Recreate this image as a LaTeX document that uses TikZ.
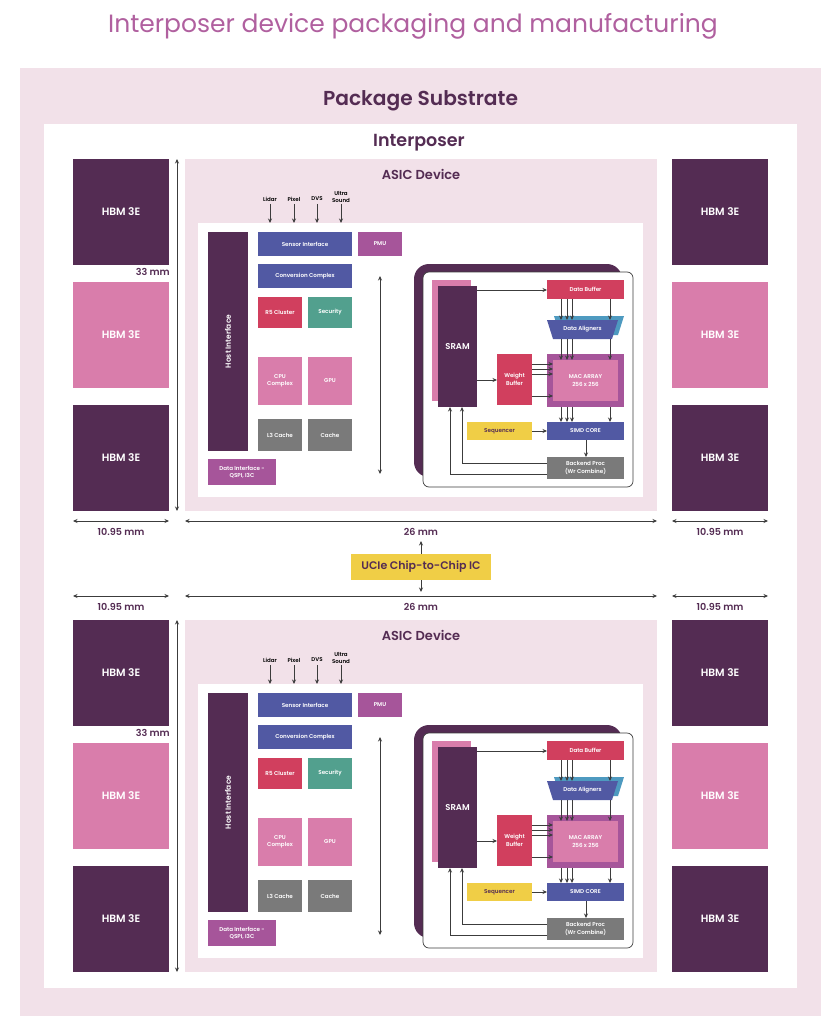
\documentclass[tikz,border=0pt]{standalone}
\usepackage{fontspec}
\setmainfont{Poppins}[BoldFont={Poppins SemiBold}]
\usetikzlibrary{arrows.meta}
\definecolor{bgp}{HTML}{F2E1E9}
\definecolor{dk}{HTML}{542C53}
\definecolor{pk}{HTML}{D97DAB}
\definecolor{mg}{HTML}{A6559A}
\definecolor{bl}{HTML}{5159A3}
\definecolor{rd}{HTML}{D13F5E}
\definecolor{tl}{HTML}{52A08E}
\definecolor{gy}{HTML}{7A7A7A}
\definecolor{yl}{HTML}{F0CE46}
\definecolor{sk}{HTML}{4E9AC0}
\definecolor{ttl}{HTML}{B0609F}
\definecolor{lnc}{HTML}{3C3C3C}
\tikzset{
  bx/.style={inner sep=0pt,outer sep=0pt,align=center,text=white,draw=none},
  tiny/.style={font=\fontsize{5.6}{7.4}\selectfont\bfseries},
  hbm/.style={font=\fontsize{10.6}{13}\selectfont\bfseries},
  dim/.style={text=dk,inner sep=0pt,font=\fontsize{9.6}{12}\selectfont\bfseries},
  sens/.style={text=black,inner sep=0pt,align=center,font=\fontsize{5.5}{6.8}\selectfont\bfseries},
  ar/.style={draw=lnc,line width=0.8pt,-{Stealth[length=4.5pt,width=4pt]}},
  dar/.style={draw=lnc,line width=0.8pt,{Stealth[length=4.5pt,width=4pt]}-{Stealth[length=4.5pt,width=4pt]}}
}
% name, x1,y1,x2,y2, colour, style, text
\newcommand\bxn[8]{%
  \pgfmathsetmacro\bw{#4-#2}\pgfmathsetmacro\bh{#5-#3}%
  \pgfmathsetmacro\bx{(#2+#4)/2}\pgfmathsetmacro\by{(#3+#5)/2}%
  \node[bx,#7,fill=#6,minimum width=\bw pt,minimum height=\bh pt] (#1) at (\bx,\by) {#8};}
\newcommand\asicblock[2]{%
\begin{scope}[shift={(0,#2)}]
  \bxn{#1asic}{185}{159}{657}{511}{bgp}{}{}
  \node[text=dk,inner sep=0pt,font=\fontsize{13}{16}\selectfont\bfseries] (#1asict) at (421,174) {ASIC Device};
  \bxn{#1in}{198}{223}{643}{497}{white}{}{}
  % host interface
  \node[bx,fill=dk,rotate=90,minimum width=219pt,minimum height=40pt,font=\fontsize{7.5}{9}\selectfont\bfseries] (#1host) at (228,341.5) {Host Interface};
  \bxn{#1si}{258}{232}{352}{256}{bl}{tiny}{Sensor Interface}
  \bxn{#1pmu}{358}{232}{402}{256}{mg}{tiny}{PMU}
  \bxn{#1cc}{258}{264}{352}{288}{bl}{tiny}{Conversion Complex}
  \bxn{#1r5}{258}{297}{302}{328}{rd}{tiny}{R5 Cluster}
  \bxn{#1sec}{308}{297}{352}{328}{tl}{tiny}{Security}
  \bxn{#1cpu}{258}{357}{302}{405}{pk}{tiny}{CPU\\Complex}
  \bxn{#1gpu}{308}{357}{352}{405}{pk}{tiny}{GPU}
  \bxn{#1l3}{258}{419}{302}{451}{gy}{tiny}{L3 Cache}
  \bxn{#1ca}{308}{419}{352}{451}{gy}{tiny}{Cache}
  \bxn{#1di}{208}{459}{276}{485}{mg}{tiny}{Data Interface -\\QSPI, I3C}
  % sensors
  \node[sens] (#1s1) at (270,199) {Lidar};
  \node[sens] (#1s2) at (294,199) {Pixel};
  \node[sens] (#1s3) at (317,199) {DVS};
  \node[sens,anchor=south] (#1s4) at (341,203) {Ultra\\Sound};
  \foreach \i in {1,2,3,4}{
    \draw[ar] (#1s\i.south |- 0,204) -- (#1s\i.south |- #1in.north);
  }
  % vertical double arrow
  \coordinate (#1va) at (380,276);
  \coordinate (#1vb) at (380,474);
  \draw[dar] (#1va) -- (#1vb);
  % accelerator
  \path[fill=dk,rounded corners=15pt] (414,264) rectangle (622,477);
  \node[draw=lnc,line width=0.7pt,fill=white,rounded corners=6pt,inner sep=0pt,minimum width=210pt,minimum height=215pt] (#1acc) at (528,379.5) {};
  \path[fill=pk] (432,280) rectangle (471,401);
  \node[bx,fill=dk,minimum width=39pt,minimum height=121pt,font=\fontsize{8.5}{10}\selectfont\bfseries] (#1sram) at (457.5,346.5) {SRAM};
  \bxn{#1db}{547}{280}{624}{299}{rd}{tiny}{Data Buffer}
  \path[fill=sk] (554,316) -- (624,316) -- (618,335) -- (560,335) -- cycle;
  \path[fill=bl] (547,320) -- (618,320) -- (612,339) -- (553,339) -- cycle;
  \node[bx,tiny,minimum width=71pt,minimum height=19pt] (#1al) at (582.5,329.5) {Data Aligners};
  \bxn{#1mo}{547}{354}{624}{407}{mg}{}{}
  \bxn{#1mac}{553}{360}{618}{401}{pk}{tiny}{MAC ARRAY\\256 x 256}
  \bxn{#1wb}{497}{354}{532}{405}{rd}{tiny}{Weight\\Buffer}
  \bxn{#1sq}{467}{422}{532}{440}{yl}{tiny,text=dk}{Sequencer}
  \bxn{#1simd}{547}{422}{624}{440}{bl}{tiny}{SIMD CORE}
  \bxn{#1be}{547}{457}{624}{479}{gy}{tiny}{Backend Proc\\(Wr Combine)}
  % helper coordinates
  \coordinate (#1x1) at (561,0);\coordinate (#1x2) at (567,0);\coordinate (#1x3) at (572,0);\coordinate (#1x4) at (610,0);
  \foreach \c in {1,2,3,4}{
    \draw[ar] (#1db.south -| #1x\c) -- (#1al.north -| #1x\c);
    \draw[ar] (#1al.south -| #1x\c) -- (#1mac.north -| #1x\c);
    \draw[ar] (#1mo.south -| #1x\c) -- (#1simd.north -| #1x\c);
  }
  \coordinate (#1y1) at (0,364);\coordinate (#1y2) at (0,369);\coordinate (#1y3) at (0,374);\coordinate (#1y4) at (0,396);
  \foreach \c in {1,2,3,4}{
    \draw[ar] (#1wb.east |- #1y\c) -- (#1mac.west |- #1y\c);
  }
  \coordinate (#1ya) at (0,290);\coordinate (#1yb) at (0,380);
  \draw[ar] (#1sram.east |- #1ya) -- (#1db.west |- #1ya);
  \draw[ar] (#1sram.east |- #1yb) -- (#1wb.west |- #1yb);
  \draw[ar] (#1sq) -- (#1simd);
  \coordinate (#1xb) at (586,0);
  \draw[ar] (#1simd.south -| #1xb) -- (#1be.north -| #1xb);
  \coordinate (#1r1) at (462,463);\coordinate (#1r2) at (450,474);
  \draw[ar] (#1be.west |- #1r1) -- (#1r1) -- (#1r1 |- #1sram.south);
  \draw[ar] (#1be.west |- #1r2) -- (#1r2) -- (#1r2 |- #1sram.south);
\end{scope}}
\newcommand\hbmcol[3]{% prefix, x-left, y offset
  \begin{scope}[shift={(#2,#3)}]
  \bxn{#1a}{0}{159}{96}{264.5}{dk}{hbm}{HBM 3E}
  \bxn{#1b}{0}{282}{96}{388}{pk}{hbm}{HBM 3E}
  \bxn{#1c}{0}{405}{96}{511}{dk}{hbm}{HBM 3E}
  \end{scope}}
\begin{document}
\begin{tikzpicture}[x=1pt,y=-1pt]
\useasboundingbox (0,0) rectangle (838,1024);
\node[text=ttl,inner sep=0pt,font=\fontsize{25}{30}\selectfont] (title) at (413,26) {Interposer device packaging and manufacturing};
\bxn{sub}{20}{68}{821}{1016}{bgp}{}{}
\node[text=dk,inner sep=0pt,font=\fontsize{20.2}{26}\selectfont\bfseries] (subt) at (420.5,100.5) {Package Substrate};
\bxn{ipo}{44}{124}{797}{988}{white}{}{}
\node[text=dk,inner sep=0pt,font=\fontsize{17.5}{22}\selectfont\bfseries] (ipot) at (419,142.5) {Interposer};
\hbmcol{tl}{73}{0}
\hbmcol{tr}{672}{0}
\hbmcol{bl}{73}{461}
\hbmcol{br}{672}{461}
\asicblock{u}{0}
\asicblock{v}{461}
% 33 mm dimensions
\coordinate (ut) at (177,159);\coordinate (ub) at (177,511);
\coordinate (vt) at (177,620);\coordinate (vb) at (177,972);
\draw[dar] (ut) -- (ub);
\draw[dar] (vt) -- (vb);
\node[dim,anchor=east,fill=white,inner xsep=1pt] (d1) at (171,272) {33 mm};
\node[dim,anchor=east,fill=white,inner xsep=1pt] (d2) at (171,733) {33 mm};
% horizontal dimensions
\foreach \yl/\yt/\n in {521/532/p,596/607/q}{
  \coordinate (\n a) at (73,\yl);\coordinate (\n b) at (169,\yl);
  \coordinate (\n c) at (185,\yl);\coordinate (\n d) at (657,\yl);
  \coordinate (\n e) at (672,\yl);\coordinate (\n f) at (768,\yl);
  \draw[dar] (\n a) -- (\n b);
  \draw[dar] (\n c) -- (\n d);
  \draw[dar] (\n e) -- (\n f);
  \node[dim] (\n l) at (121,\yt) {10.95 mm};
  \node[dim] (\n m) at (421,\yt) {26 mm};
  \node[dim] (\n r) at (720,\yt) {10.95 mm};
}
\bxn{ucie}{351}{554}{491}{580}{yl}{text=dk,font=\fontsize{11}{14}\selectfont\bfseries}{UCIe Chip-to-Chip IC}
\coordinate (ua1) at (421,541);\coordinate (ua2) at (421,592);
\draw[ar] (ucie.north) -- (ua1);
\draw[ar] (ucie.south) -- (ua2);
\end{tikzpicture}
\end{document}
